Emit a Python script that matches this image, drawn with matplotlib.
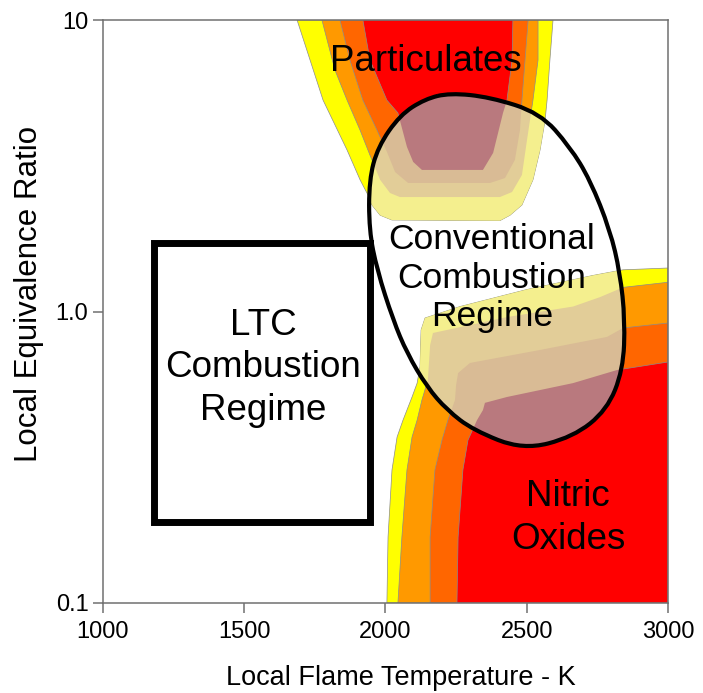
import numpy as np
import matplotlib.pyplot as plt
from matplotlib.patches import Polygon, Rectangle, PathPatch
from matplotlib.path import Path
from matplotlib.ticker import NullLocator

plt.rcParams['font.family'] = ['Liberation Sans', 'DejaVu Sans']

# axes
x_ticks = [1000, 1500, 2000, 2500, 3000]
x_tick_labels = ['1000', '1500', '2000', '2500', '3000']
y_ticks = [0.1, 1.0, 10]
y_tick_labels = ['0.1', '1.0', '10']

# band colours, outer -> inner, and the same bands seen through the ellipse
band_colors = ['#FFFF00', '#FF9900', '#FF6600', '#FF0000']
pale_colors = ['#F4EF8E', '#E2CD98', '#D9BB95', '#B9797E']

# particulate bands (flame temperature K, equivalence ratio)
pm_yellow_T = [1687, 1733, 1779, 1864, 1910, 1938, 1952, 1981, 2023, 2405, 2441, 2483, 2522, 2547, 2565, 2572, 2582, 2593]
pm_yellow_phi = [10.0, 7.29, 5.31, 3.58, 2.83, 2.51, 2.32, 2.14, 2.06, 2.05, 2.14, 2.32, 2.83, 3.58, 4.54, 5.31, 7.29, 10.0]
pm_orange_T = [1775, 1821, 1864, 1910, 1945, 1981, 2016, 2051, 2405, 2448, 2483, 2501, 2522, 2540, 2540]
pm_orange_phi = [10.0, 6.74, 5.31, 4.19, 3.44, 2.83, 2.55, 2.47, 2.47, 2.57, 2.94, 3.88, 5.31, 7.29, 10.0]
pm_dark_T = [1839, 1874, 1920, 1970, 2005, 2034, 2080, 2370, 2423, 2458, 2476, 2483, 2494, 2505]
pm_dark_phi = [10.0, 7.29, 5.31, 4.19, 3.53, 3.01, 2.76, 2.76, 2.87, 3.31, 4.19, 5.31, 7.29, 10.0]
pm_red_T = [1920, 1945, 2005, 2044, 2076, 2098, 2129, 2345, 2381, 2416, 2430, 2448, 2451]
pm_red_phi = [10.0, 7.29, 5.31, 4.80, 3.67, 3.26, 3.06, 3.06, 3.50, 4.80, 5.31, 7.29, 10.0]

# nitric oxide bands
no_yellow_T = [2005, 2009, 2023, 2041, 2062, 2094, 2112, 2122, 2126, 2140, 2264, 2501, 2735, 2841, 3000, 3000]
no_yellow_phi = [0.1, 0.168, 0.286, 0.371, 0.424, 0.509, 0.568, 0.645, 0.864, 0.950, 1.04, 1.19, 1.33, 1.39, 1.41, 0.1]
no_orange_T = [2044, 2058, 2076, 2094, 2112, 2129, 2150, 2158, 2168, 2430, 2664, 2759, 2841, 3000, 3000]
no_orange_phi = [0.1, 0.168, 0.286, 0.371, 0.424, 0.497, 0.582, 0.767, 0.844, 0.957, 1.04, 1.12, 1.21, 1.26, 0.1]
no_dark_T = [2158, 2158, 2175, 2200, 2221, 2246, 2250, 2257, 2299, 2547, 2784, 2841, 3000, 3000]
no_dark_phi = [0.1, 0.168, 0.286, 0.362, 0.424, 0.497, 0.560, 0.615, 0.666, 0.738, 0.818, 0.878, 0.913, 0.1]
no_red_T = [2253, 2257, 2274, 2292, 2324, 2345, 2352, 2430, 2664, 2820, 3000, 3000]
no_red_phi = [0.1, 0.168, 0.286, 0.362, 0.424, 0.459, 0.486, 0.509, 0.568, 0.630, 0.671, 0.1]

# conventional combustion regime outline
conv_T = [2228, 2370, 2547, 2653, 2724, 2795, 2830, 2848, 2841, 2784, 2664, 2487,
          2310, 2218, 2147, 2076, 2027, 1970, 1942, 1942, 1973, 2051, 2140]
conv_phi = [5.62, 5.44, 4.80, 3.67, 2.83, 1.90, 1.36, 0.935, 0.630, 0.459, 0.371, 0.335,
            0.392, 0.459, 0.551, 0.720, 0.935, 1.39, 1.90, 2.83, 3.67, 4.72, 5.36]

# LTC regime box
ltc_T = [1179, 1945]
ltc_phi = [0.190, 1.72]

fig = plt.figure(figsize=(7.03, 6.93), dpi=100)
ax = fig.add_axes([0.1465, 0.1299, 0.8037, 0.8412])
ax.set_yscale('log')
ax.set_xlim(1000, 3000)
ax.set_ylim(0.1, 10)

# smooth closed outline: outline points used as quadratic control points
T = np.array(conv_T, float)
phi = np.array(conv_phi, float)
mid_T = (T + np.roll(T, -1)) / 2
mid_phi = np.sqrt(phi * np.roll(phi, -1))
verts = [(mid_T[-1], mid_phi[-1])]
codes = [Path.MOVETO]
for i in range(len(T)):
    verts += [(T[i], phi[i]), (mid_T[i], mid_phi[i])]
    codes += [Path.CURVE3, Path.CURVE3]
conv = PathPatch(Path(verts, codes), fill=False, ec='black', lw=3, zorder=5)
ax.add_patch(conv)

bands = [(pm_yellow_T, pm_yellow_phi), (pm_orange_T, pm_orange_phi),
         (pm_dark_T, pm_dark_phi), (pm_red_T, pm_red_phi),
         (no_yellow_T, no_yellow_phi), (no_orange_T, no_orange_phi),
         (no_dark_T, no_dark_phi), (no_red_T, no_red_phi)]
for i, (bT, bphi) in enumerate(bands):
    pts = np.column_stack([bT, bphi])
    ax.add_patch(Polygon(pts, closed=True, fc=band_colors[i % 4], ec='#8c8c8c', lw=0.5, zorder=1))
    pale = Polygon(pts, closed=True, fc=pale_colors[i % 4], ec='none', zorder=2)
    ax.add_patch(pale)
    pale.set_clip_path(conv)

ax.add_patch(Rectangle((ltc_T[0], ltc_phi[0]), ltc_T[1] - ltc_T[0], ltc_phi[1] - ltc_phi[0],
                       fill=False, ec='black', lw=5, joinstyle='miter', zorder=5))

ax.text(2143, 7.18, 'Particulates', fontsize=26.5, ha='center', va='center', zorder=6)
ax.text(2377, 1.30, 'Conventional\nCombustion\nRegime', fontsize=25.5, ha='center', va='center',
        linespacing=1.21, zorder=6)
ax.text(1566, 0.64, 'LTC\nCombustion\nRegime', fontsize=26.5, ha='center', va='center',
        linespacing=1.28, zorder=6)
ax.text(2646, 0.196, 'Nitric\nOxides', fontsize=26.5, ha='center', va='center',
        linespacing=1.28, zorder=6)

ax.set_xticks(x_ticks, labels=x_tick_labels)
ax.set_yticks(y_ticks, labels=y_tick_labels)
ax.yaxis.set_minor_locator(NullLocator())
ax.tick_params(direction='out', length=7, width=1.1, color='#707070', labelsize=17)
ax.tick_params(axis='x', pad=6)
ax.tick_params(axis='y', pad=3.5)
for s in ax.spines.values():
    s.set_color('#707070')
    s.set_linewidth(1.1)

ax.set_xlabel('Local Flame Temperature - K', fontsize=19.5)
ax.set_ylabel('Local Equivalence Ratio', fontsize=22.5)
ax.xaxis.set_label_coords(0.527, -0.106)
ax.yaxis.set_label_coords(-0.105, 0.53)

fig.savefig('out.png', dpi=100)
